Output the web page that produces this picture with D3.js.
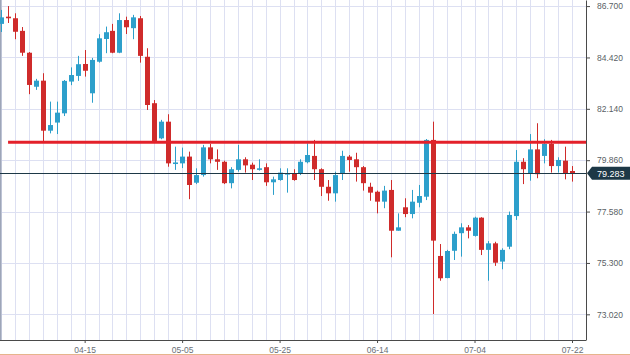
<!DOCTYPE html>
<html>
<head>
<meta charset="utf-8">
<script src="https://cdn.jsdelivr.net/npm/d3@7"></script>
<style>
  body { margin: 0; background: #fff; }
  svg { display: block; font-family: "Liberation Sans", Arial, sans-serif; }
</style>
</head>
<body>
<div id="app"></div>
<script>
// daily candles
const dates = ["03-28","03-31","04-01","04-02","04-03","04-04","04-07","04-08","04-09","04-10","04-11","04-14",
  "04-15","04-16","04-17","04-18","04-21","04-22","04-23","04-24","04-25","04-28","04-29","04-30","05-01","05-02",
  "05-05","05-06","05-07","05-08","05-09","05-12","05-13","05-14","05-15","05-16","05-19","05-20","05-21","05-22",
  "05-25","05-27","05-28","05-29","05-30","06-02","06-03","06-04","06-05","06-06","06-09","06-10","06-11","06-12",
  "06-14","06-16","06-17","06-18","06-19","06-20","06-23","06-24","06-25","06-26","06-27","06-30","07-01","07-02",
  "07-04","07-06","07-07","07-08","07-09","07-10","07-11","07-13","07-14","07-15","07-16","07-17","07-18","07-21",
  "07-22"];
const open  = [85.91,86.23,86.16,85.60,84.63,83.12,83.39,81.17,81.53,81.94,83.35,83.60,84.13,82.83,84.23,85.24,85.60,84.63,86.08,85.72,
  86.16,84.45,82.39,80.83,81.57,79.69,79.72,80.02,78.86,79.20,80.43,79.90,79.79,78.84,79.43,79.90,79.66,79.43,79.55,78.88,
  78.98,79.22,79.28,79.25,79.77,80.05,79.46,78.68,78.39,79.25,80.02,79.90,79.55,78.68,78.46,78.02,78.54,76.73,77.77,77.47,
  77.97,78.24,80.76,75.61,74.63,75.84,76.62,76.88,76.50,77.31,75.88,76.17,75.36,76.02,77.38,79.79,79.28,80.34,80.05,80.58,
  79.60,79.84,79.38];
const high  = [86.53,86.70,86.38,85.77,84.66,83.47,83.72,82.46,82.46,83.42,83.98,84.49,84.75,84.40,85.45,85.79,85.91,86.38,86.23,86.31,
  86.26,84.83,82.53,81.65,81.90,80.46,80.42,80.24,79.50,80.54,80.58,80.34,79.84,79.55,80.54,79.99,79.75,79.90,79.72,79.13,
  79.50,79.50,79.46,79.90,80.61,80.76,79.50,78.98,79.35,80.28,80.09,80.19,79.60,78.86,78.51,78.72,78.98,77.50,78.17,78.54,
  78.76,80.80,81.57,76.14,75.88,76.69,77.06,76.98,77.35,77.33,76.27,76.24,75.95,77.58,80.31,79.95,81.02,81.50,80.79,80.76,
  79.99,80.46,79.60];
const low   = [85.55,85.95,85.23,84.49,82.79,82.98,80.68,81.05,81.02,81.82,83.19,83.38,83.57,82.41,84.19,84.61,84.61,84.61,85.46,85.23,
  84.19,82.09,80.62,80.79,79.57,79.43,79.51,78.13,78.80,79.13,79.72,79.43,78.80,78.61,79.35,79.31,78.98,79.40,78.72,78.32,
  78.95,78.42,78.95,79.20,79.72,78.98,78.27,78.06,78.02,78.98,79.35,78.91,78.51,78.06,77.50,77.73,75.55,76.73,77.33,77.28,
  77.77,78.09,73.03,74.51,74.62,75.43,75.58,76.39,76.47,75.65,74.51,75.17,75.02,75.91,77.21,78.80,78.95,79.06,79.72,79.31,
  79.31,79.01,78.91];
const close = [86.20,86.16,85.56,84.63,83.20,83.39,81.17,81.42,81.97,83.38,83.64,84.12,83.83,84.31,85.27,85.54,84.63,86.08,85.76,86.20,
  84.49,82.31,80.64,81.57,79.72,79.76,80.02,78.76,79.20,80.43,79.90,79.79,78.84,79.46,79.90,79.63,79.46,79.50,78.88,79.01,
  79.31,79.28,78.98,79.79,80.09,79.46,78.68,78.39,79.20,80.05,79.87,79.55,78.84,78.42,78.02,78.51,76.73,76.88,77.47,78.02,
  78.27,80.76,76.29,74.62,75.83,76.59,76.88,76.73,77.31,75.88,76.17,75.31,75.88,77.43,79.79,79.46,80.34,79.24,80.58,79.60,
  79.87,79.28,79.283];

const yTicks = [73.02, 75.3, 77.58, 79.86, 82.14, 84.42, 86.7];
const xTicks = ["04-15", "05-05", "05-25", "06-14", "07-04", "07-22"];
const resistance = 80.655;
const resistanceFrom = "03-31";
const lastPrice = 79.283;

const W = 630, H = 355;
const plotW = 586, plotH = 340;
const upColor = "#2d9fcb", downColor = "#cf2b2b";

const candles = dates.map((d, i) => ({date: d, o: open[i], h: high[i], l: low[i], c: close[i]}));

const svg = d3.select("#app").append("svg")
    .attr("width", W)
    .attr("height", H);

let x = d3.scalePoint()
    .domain(dates)
    .range([1.1, 572]);

let y = d3.scaleLinear()
    .domain([71.88, 86.97])
    .range([plotH, 0]);

svg.append("defs").append("clipPath").attr("id", "plot")
    .append("rect").attr("width", plotW).attr("height", plotH);

// grid
let grid = svg.append("g").attr("class", "grid")
    .attr("stroke", "#dde0f2").attr("stroke-width", 1);
grid.selectAll("line.v")
    .data(dates.filter((d, i) => i % 2 === 0))
    .enter().append("line")
        .attr("class", "v")
        .attr("x1", d => Math.round(x(d)) + 0.5)
        .attr("x2", d => Math.round(x(d)) + 0.5)
        .attr("y1", 0).attr("y2", plotH);
grid.selectAll("line.h")
    .data(yTicks)
    .enter().append("line")
        .attr("class", "h")
        .attr("x1", 0).attr("x2", plotW)
        .attr("y1", d => Math.round(y(d)) + 0.5)
        .attr("y2", d => Math.round(y(d)) + 0.5);

// left border
svg.append("line")
    .attr("x1", 0.75).attr("x2", 0.75).attr("y1", 0).attr("y2", plotH)
    .attr("stroke", "#9ea6b8").attr("stroke-width", 1.5);

let plot = svg.append("g").attr("clip-path", "url(#plot)");

// candles
let bodyW = 5;
let cg = plot.append("g").attr("class", "candles")
    .selectAll("g")
    .data(candles)
    .enter().append("g")
        .attr("fill", d => d.c >= d.o ? upColor : downColor)
        .attr("stroke", d => d.c >= d.o ? upColor : downColor);

cg.append("line")
    .attr("x1", d => Math.round(x(d.date)) + 0.5)
    .attr("x2", d => Math.round(x(d.date)) + 0.5)
    .attr("y1", d => y(d.h))
    .attr("y2", d => y(d.l))
    .attr("stroke-width", 1);

cg.append("rect")
    .attr("x", d => Math.round(x(d.date)) + 0.5 - bodyW / 2)
    .attr("width", bodyW)
    .attr("y", d => y(Math.max(d.o, d.c)))
    .attr("height", d => Math.max(1, y(Math.min(d.o, d.c)) - y(Math.max(d.o, d.c))))
    .attr("stroke", "none");

// resistance line
plot.append("line")
    .attr("x1", x(resistanceFrom))
    .attr("x2", plotW)
    .attr("y1", y(resistance))
    .attr("y2", y(resistance))
    .attr("stroke", "#e3202a")
    .attr("stroke-width", 3);

// last price line
plot.append("line")
    .attr("x1", 0).attr("x2", plotW)
    .attr("y1", Math.round(y(lastPrice)) + 0.5)
    .attr("y2", Math.round(y(lastPrice)) + 0.5)
    .attr("stroke", "#1d3846").attr("stroke-width", 1);

// right axis
let yAxis = svg.append("g")
    .attr("class", "axisright")
    .attr("transform", "translate(" + plotW + ",0)")
    .call(d3.axisRight(y).tickValues(yTicks).tickFormat(d3.format(".3f")).tickSize(4).tickPadding(7).tickSizeOuter(0));
yAxis.select(".domain").attr("stroke", "#4a4a4a");
yAxis.selectAll(".tick line").attr("stroke", "#4a4a4a");
yAxis.selectAll("text").attr("fill", "#5a5f66").attr("font-size", 8.5).attr("font-family", null);

// bottom axis
let xAxis = svg.append("g")
    .attr("class", "axisbottom")
    .attr("transform", "translate(0," + plotH + ")")
    .call(d3.axisBottom(x).tickValues(xTicks).tickSize(3).tickPadding(4).tickSizeOuter(0));
xAxis.select(".domain").attr("stroke", "#4a4a4a").attr("d", "M0,0.5H" + plotW);
xAxis.selectAll(".tick line").attr("stroke", "#4a4a4a");
xAxis.selectAll("text").attr("fill", "#6a6f77").attr("font-size", 8.5).attr("font-family", null);

// last price tag
let ly = y(lastPrice);
svg.append("path")
    .attr("d", "M" + (plotW + 1) + "," + ly + "L" + (plotW + 6) + "," + (ly - 6.5) + "H" + W + "V" + (ly + 6.5) + "H" + (plotW + 6) + "Z")
    .attr("fill", "#1d3846");
svg.append("text")
    .attr("x", 597).attr("y", ly + 3.5)
    .attr("fill", "#ffffff")
    .attr("font-size", 9)
    .text(d3.format(".3f")(lastPrice));

// bottom strip
svg.append("line")
    .attr("x1", 0).attr("x2", W).attr("y1", 354.5).attr("y2", 354.5)
    .attr("stroke", "#e6b48c").attr("stroke-width", 1);
</script>
</body>
</html>
